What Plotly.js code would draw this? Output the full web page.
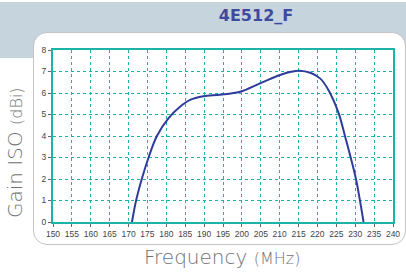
<!DOCTYPE html>
<html><head><meta charset="utf-8">
<script src="https://cdn.plot.ly/plotly-3.0.1.min.js"></script>
<style>
html,body{margin:0;padding:0;width:406px;height:272px;overflow:hidden;background:#fff;}
#band{position:absolute;left:0;top:2px;width:406px;height:56px;background:#c6d4dd;}
#panel{position:absolute;left:33px;top:32px;width:371px;height:211px;background:#fff;border:1px solid #c4c4c4;border-radius:14px;}
#chart{position:absolute;left:0;top:0;width:406px;height:272px;}
</style></head>
<body>
<div id="band"></div><div id="panel"></div><div id="chart"></div>
<script>
const chartTitle = '4E512_F';
const freq = [170.9, 172.0, 173.5, 175.3, 177.5, 180.6, 183.7, 186.3, 189.8, 194.2, 199.5, 204.8, 210.1, 213, 215.3, 218.1, 220.7, 222.9, 225.6, 227.3, 228.8, 230.2, 231.2, 232.2];
const gain = [0, 1, 2, 3, 4, 4.83, 5.37, 5.68, 5.85, 5.92, 6.06, 6.45, 6.84, 6.99, 7.04, 6.94, 6.68, 6.14, 5.06, 3.99, 3.0, 2.0, 1.05, 0];
const xTicks = [150,155,160,165,170,175,180,185,190,195,200,205,210,215,220,225,230,235,240];
const yTicks = [0,1,2,3,4,5,6,7,8];

const teal = '#1db3a8';
const axisCommon = {
  showline:true, linecolor:teal, linewidth:2, mirror:true,
  showgrid:true, gridcolor:teal, gridwidth:1, griddash:'dot',
  zeroline:false, ticks:'outside', ticklen:3, tickcolor:'#666', tickwidth:1,
  tickfont:{family:'Liberation Sans, Arial, sans-serif', size:8.5, color:'#444'}
};
const titleFont = {family:'DejaVu Sans ExtraLight, DejaVu Sans, sans-serif', size:20, color:'#707070', weight:200};
Plotly.newPlot('chart', [{
  x: freq, y: gain, type:'scatter', mode:'lines',
  line:{color:'#2f3c9c', width:2, shape:'spline', smoothing:1},
  hoverinfo:'skip'
}], {
  width:406, height:272,
  paper_bgcolor:'rgba(0,0,0,0)', plot_bgcolor:'rgba(0,0,0,0)',
  margin:{l:53, r:13, t:50, b:50},
  showlegend:false,
  title:{text:'<b>'+chartTitle+'</b>', x:256/406, xanchor:'center', y:1-15/272, yanchor:'middle', yref:'container',
         font:{family:'DejaVu Sans, sans-serif', size:16, color:'#3c4b9e'}},
  xaxis:Object.assign({}, axisCommon, {range:[150,240], tickvals:xTicks, ticktext:xTicks.map(String)}),
  yaxis:Object.assign({}, axisCommon, {range:[0,8], tickvals:yTicks, ticktext:yTicks.map(String)}),
  annotations:[
    {text:'Frequency <span style="font-size:16px">(MHz)</span>', xref:'paper', yref:'paper', x:(222-53)/340, y:-35/172, xanchor:'center', yanchor:'middle', showarrow:false,
     font:titleFont},
    {text:'Gain ISO <span style="font-size:16px">(dBi)</span>', xref:'paper', yref:'paper', x:-38/340, y:(222-153)/172, xanchor:'center', yanchor:'middle', textangle:-90, showarrow:false,
     font:titleFont}
  ]
}, {displayModeBar:false, staticPlot:true});
</script>
</body></html>
